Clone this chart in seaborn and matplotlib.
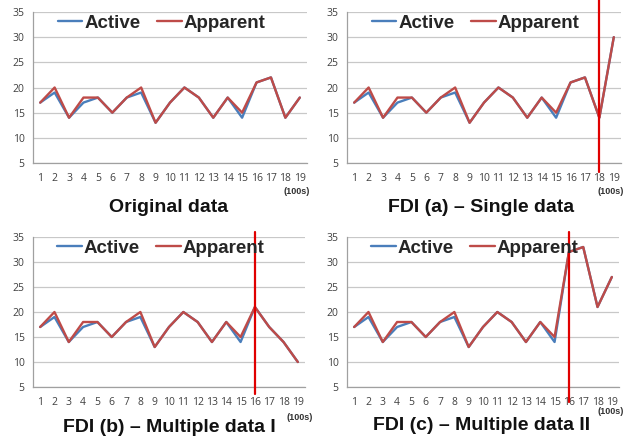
import numpy as np
import pandas as pd
import matplotlib
matplotlib.use("Agg")
import matplotlib.pyplot as plt
from matplotlib.lines import Line2D
import seaborn as sns

sns.set_style("white")
plt.rcParams['font.family'] = ['Open Sans', 'DejaVu Sans']
BOLD_FAMILY = ['Liberation Sans', 'DejaVu Sans']

# ---- data ----
time_idx = list(range(1, 20))
active_base = [17, 19, 14, 17, 18, 15, 18, 19, 13, 17, 20, 18, 14, 18, 14, 21, 22, 14, 18]
apparent_base = [17, 20, 14, 18, 18, 15, 18, 20, 13, 17, 20, 18, 14, 18, 15, 21, 22, 14, 18]

active_a = [17, 19, 14, 17, 18, 15, 18, 19, 13, 17, 20, 18, 14, 18, 14, 21, 22, 14, 30]
apparent_a = [17, 20, 14, 18, 18, 15, 18, 20, 13, 17, 20, 18, 14, 18, 15, 21, 22, 14, 30]

active_b = [17, 19, 14, 17, 18, 15, 18, 19, 13, 17, 20, 18, 14, 18, 14, 21, 17, 14, 10]
apparent_b = [17, 20, 14, 18, 18, 15, 18, 20, 13, 17, 20, 18, 14, 18, 15, 21, 17, 14, 10]

active_c = [17, 19, 14, 17, 18, 15, 18, 19, 13, 17, 20, 18, 14, 18, 14, 32, 33, 21, 27]
apparent_c = [17, 20, 14, 18, 18, 15, 18, 20, 13, 17, 20, 18, 14, 18, 15, 32, 33, 21, 27]

titles = ["Original data", "FDI (a) \u2013 Single data",
          "FDI (b) \u2013 Multiple data I", "FDI (c) \u2013 Multiple data II"]
attack_at = [None, 18, 16, 16]
series_names = ["Active", "Apparent"]
y_ticks = [5, 10, 15, 20, 25, 30, 35]

W, H = 628, 438
fig = plt.figure(figsize=(W / 100, H / 100), dpi=100)

# panel layouts in pixels: left, right, top, bottom
boxes = [(33, 307, 12, 163), (347, 621, 12, 163), (33, 305, 237, 387), (347, 619, 237, 387)]
vline_px = [None, (0, 172), (232, 394), (232, 402)]
title_pos = [(169, 207), (481, 207), (169, 427), (482, 426)]
unit_pos = [(297, 192), (611, 192), (300, 417), (611, 412)]

panels = [(active_base, apparent_base), (active_a, apparent_a),
          (active_b, apparent_b), (active_c, apparent_c)]

blue = "#4a7ebb"
red = "#be4b48"

for i, (act, app) in enumerate(panels):
    l, r, t, b = boxes[i]
    ax = fig.add_axes([l / W, 1 - b / H, (r - l) / W, (b - t) / H])
    df = pd.DataFrame({"t": time_idx * 2,
                       "v": act + app,
                       "s": [series_names[0]] * 19 + [series_names[1]] * 19})
    sns.lineplot(data=df, x="t", y="v", hue="s", palette=[blue, red],
                 linewidth=1.7, ax=ax, legend=False)
    ax.set_xlim(0.5, 19.5)
    ax.set_ylim(5, 35)
    ax.set_yticks(y_ticks)
    ax.set_xticks(time_idx)
    ax.set_xticks(np.arange(0.5, 20, 1), minor=True)
    ax.tick_params(axis="x", which="major", length=0, pad=7, labelsize=7.5, colors="#404040")
    ax.tick_params(axis="x", which="minor", length=4, direction="out", color="#a0a0a0", width=0.8)
    ax.tick_params(axis="y", which="major", length=4, direction="out", color="#a0a0a0",
                   labelsize=7.5, colors="#404040", pad=2)
    ax.set_xlabel("")
    ax.set_ylabel("")
    ax.grid(axis="y", color="#c8c8c8", linewidth=0.9)
    ax.set_axisbelow(True)
    for s in ["top", "right"]:
        ax.spines[s].set_visible(False)
    for s in ["left", "bottom"]:
        ax.spines[s].set_color("#a0a0a0")
        ax.spines[s].set_linewidth(0.9)

    handles = [Line2D([], [], color=blue, lw=1.7), Line2D([], [], color=red, lw=1.7)]
    ax.legend(handles, series_names, loc="center", bbox_to_anchor=(0.47, 0.925),
              ncol=2, frameon=False, handlelength=1.3, handletextpad=0.1,
              columnspacing=0.9,
              prop={"family": BOLD_FAMILY, "weight": "bold", "size": 13.5})

    if attack_at[i] is not None:
        y0, y1 = vline_px[i]
        ymin = (b - y1) / (b - t)
        ymax = (b - y0) / (b - t)
        ax.axvline(attack_at[i], ymin=ymin, ymax=ymax, color="#e00000",
                   linewidth=1.6, clip_on=False, zorder=5)

    tx, ty = title_pos[i]
    fig.text(tx / W, 1 - ty / H, titles[i], ha="center", va="center",
             fontsize=14, fontweight="bold", family=BOLD_FAMILY, color="#111111")
    ux, uy = unit_pos[i]
    fig.text(ux / W, 1 - uy / H, "(100s)", ha="center", va="center",
             fontsize=6.5, fontweight="bold", family=BOLD_FAMILY, color="#333333")

fig.savefig("out.png", dpi=100)
